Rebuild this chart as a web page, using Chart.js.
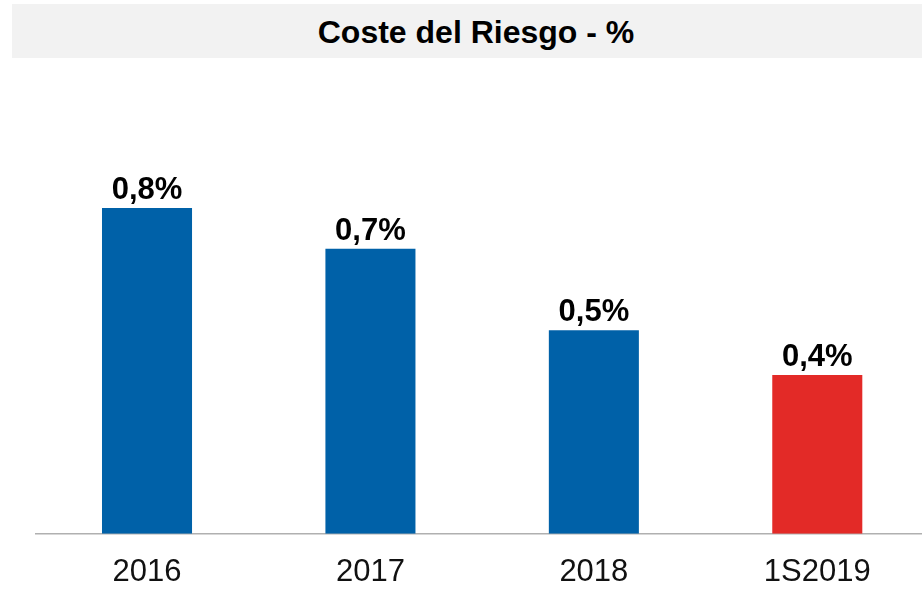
<!DOCTYPE html>
<html>
<head>
<meta charset="utf-8">
<script src="https://cdn.jsdelivr.net/npm/chart.js@4/dist/chart.umd.min.js"></script>
<style>
  html, body { margin: 0; padding: 0; background: #fff; overflow: hidden; }
  body { width: 922px; height: 589px; position: relative; }
  #title {
    position: absolute; left: 12px; top: 4px; width: 928px; height: 54px;
    background: #f2f2f2; font-family: "Liberation Sans", Arial, sans-serif;
    font-weight: bold; font-size: 32px; line-height: 54px; color: #000;
  }
  #title span { position: absolute; left: 0; top: 1px; width: 928px; text-align: center; }
  #wrap { position: absolute; left: 0; top: 0; width: 929px; height: 611px; }
</style>
</head>
<body>
<div id="title"><span>Coste del Riesgo - %</span></div>
<div id="wrap"><canvas id="chart" width="929" height="611"></canvas></div>
<script>
const categories = ['2016', '2017', '2018', '1S2019'];
const costeRiesgo = [0.8, 0.7, 0.5, 0.39];
const barColors = ['#0061a8', '#0061a8', '#0061a8', '#e32a27'];

const fontFamily = '"Liberation Sans", Arial, sans-serif';

// etiquetas de valor encima de cada barra
const valueLabels = {
  id: 'valueLabels',
  afterDatasetsDraw(chart) {
    const { ctx } = chart;
    const meta = chart.getDatasetMeta(0);
    ctx.save();
    ctx.font = 'bold 31px ' + fontFamily;
    ctx.fillStyle = '#000';
    ctx.textAlign = 'center';
    ctx.textBaseline = 'alphabetic';
    meta.data.forEach((bar, i) => {
      const txt = costeRiesgo[i].toFixed(1).replace('.', ',') + '%';
      ctx.fillText(txt, bar.x, bar.y - 9);
    });
    ctx.restore();
  }
};

new Chart(document.getElementById('chart'), {
  type: 'bar',
  data: {
    labels: categories,
    datasets: [{
      data: costeRiesgo,
      backgroundColor: barColors,
      borderWidth: 0,
      categoryPercentage: 1,
      barPercentage: 0.403
    }]
  },
  options: {
    responsive: false,
    animation: false,
    devicePixelRatio: 1,
    layout: { padding: { top: 126.5, left: 35.3, right: 0, bottom: 0 } },
    plugins: { legend: { display: false }, tooltip: { enabled: false } },
    scales: {
      x: {
        grid: { display: false, drawTicks: false },
        border: { display: true, color: '#b0b0b0', width: 1.5 },
        ticks: {
          color: '#111',
          padding: 20,
          font: { family: fontFamily, size: 31 }
        }
      },
      y: {
        display: false,
        min: 0,
        max: 1.0
      }
    }
  },
  plugins: [valueLabels]
});
</script>
</body>
</html>
